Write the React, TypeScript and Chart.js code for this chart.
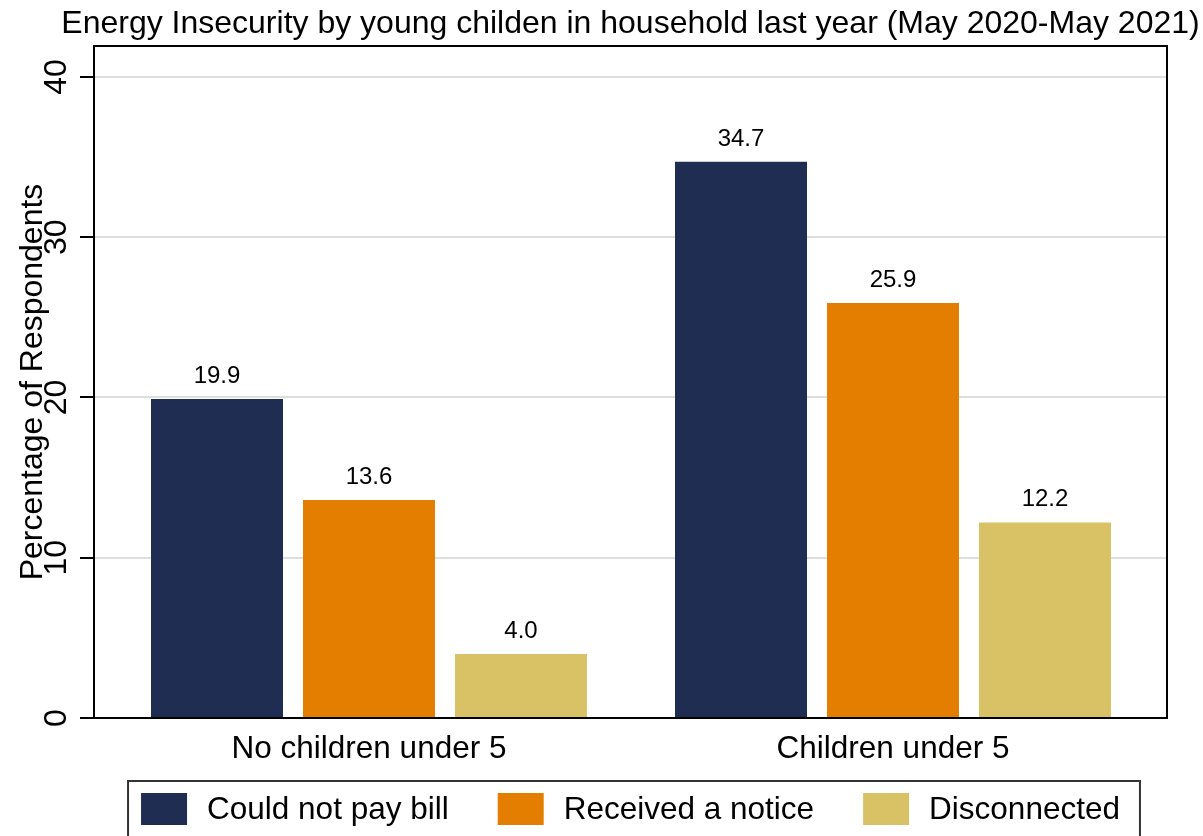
import React, { useEffect, useRef } from "react";
import { Chart, registerables } from "chart.js";

Chart.register(...registerables);

const chartTitle = "Energy Insecurity by young childen in household last year (May 2020-May 2021)";
const yAxisTitle = "Percentage of Respondents";
const categories = ["No children under 5", "Children under 5"];
const seriesNames = ["Could not pay bill", "Received a notice", "Disconnected"];
const couldNotPayBill = [19.9, 34.7];
const receivedNotice = [13.6, 25.9];
const disconnected = [4.0, 12.2];
const seriesColors = ["#1f2d52", "#e37e00", "#d9c266"];
const yTicks = [0, 10, 20, 30, 40];
const yMax = 41.93;
const xMin = -0.5248;
const xMax = 1.5229;

const FONT = "'Liberation Sans', Arial, Helvetica, sans-serif";

export default function App() {
  const ref = useRef<HTMLCanvasElement | null>(null);

  useEffect(() => {
    document.body.style.margin = "0";
    const canvas = ref.current;
    if (!canvas) return;

    const seriesValues = [couldNotPayBill, receivedNotice, disconnected];

    const titlePlugin = {
      id: "topTitle",
      afterDraw(chart: any) {
        const { ctx, chartArea } = chart;
        ctx.save();
        ctx.font = `32px ${FONT}`;
        ctx.fillStyle = "#000";
        ctx.textAlign = "center";
        ctx.textBaseline = "alphabetic";
        ctx.fillText(chartTitle, (chartArea.left + chartArea.right) / 2, 33);
        ctx.restore();
      },
    };

    const legendPlugin = {
      id: "boxLegend",
      afterDraw(chart: any) {
        const { ctx, chartArea } = chart;
        const boxW = 46;
        const boxH = 32;
        const textGap = 20;
        const itemGap = 49;
        const swatchTop = 793;
        ctx.save();
        ctx.font = `31.5px ${FONT}`;
        const widths = seriesNames.map((n) => ctx.measureText(n).width);
        const total =
          widths.reduce((a, w) => a + boxW + textGap + w, 0) + itemGap * (seriesNames.length - 1);
        let x = (chartArea.left + chartArea.right) / 2 - total / 2;
        const startX = x;
        seriesNames.forEach((name, i) => {
          ctx.fillStyle = seriesColors[i];
          ctx.fillRect(x, swatchTop, boxW, boxH);
          ctx.fillStyle = "#000";
          ctx.textAlign = "left";
          ctx.textBaseline = "alphabetic";
          ctx.fillText(name, x + boxW + textGap, swatchTop + 25.5);
          x += boxW + textGap + widths[i] + itemGap;
        });
        const endX = x - itemGap;
        ctx.strokeStyle = "#333";
        ctx.lineWidth = 2;
        const top = swatchTop - 12;
        ctx.strokeRect(startX - 13, top, endX - startX + 33, chart.height - top + 20);
        ctx.restore();
      },
    };

    const boxPlugin = {
      id: "plotBox",
      afterDatasetsDraw(chart: any) {
        const { ctx, chartArea } = chart;
        ctx.save();
        ctx.font = `24px ${FONT}`;
        ctx.fillStyle = "#000";
        ctx.textAlign = "center";
        ctx.textBaseline = "alphabetic";
        chart.data.datasets.forEach((ds: any, di: number) => {
          const meta = chart.getDatasetMeta(di);
          meta.data.forEach((el: any, i: number) => {
            const v = seriesValues[di][i];
            ctx.fillText(v.toFixed(1), el.x, el.y - 16);
          });
        });
        ctx.strokeStyle = "#000";
        ctx.lineWidth = 2;
        ctx.strokeRect(
          chartArea.left,
          chartArea.top,
          chartArea.right - chartArea.left,
          chartArea.bottom - chartArea.top
        );
        ctx.restore();
      },
    };

    const chart = new Chart(canvas, {
      type: "bar",
      data: {
        datasets: seriesNames.map((name, di) => ({
          label: name,
          data: seriesValues[di].map((v, i) => ({ x: i, y: v })),
          backgroundColor: seriesColors[di],
          borderWidth: 0,
          categoryPercentage: 0.8702,
          barPercentage: 0.8684,
        })),
      },
      options: {
        animation: false,
        responsive: false,
        devicePixelRatio: 1,
        layout: { padding: { top: 46, right: 36, left: 0, bottom: 0 } },
        plugins: {
          title: { display: false },
          tooltip: { enabled: false },
          legend: { display: false },
        },
        scales: {
          x: {
            type: "linear",
            offset: false,
            min: xMin,
            max: xMax,
            afterBuildTicks: (scale: any) => {
              scale.ticks = categories.map((_, i) => ({ value: i }));
            },
            afterFit: (scale: any) => {
              scale.height = 118;
            },
            grid: { display: false, drawTicks: false, offset: false },
            border: { display: false },
            ticks: {
              padding: 12.5,
              color: "#000",
              font: { family: FONT, size: 31.5 },
              maxRotation: 0,
              minRotation: 0,
              autoSkip: false,
              callback: (v: any) => categories[Math.round(Number(v))] ?? "",
            },
          },
          y: {
            type: "linear",
            min: 0,
            max: yMax,
            afterBuildTicks: (scale: any) => {
              scale.ticks = yTicks.map((v) => ({ value: v }));
            },
            afterFit: (scale: any) => {
              scale.width = 94;
            },
            grid: {
              color: "#dedede",
              lineWidth: 2,
              tickLength: 14,
              tickColor: "#000",
              tickWidth: 2,
            },
            border: { display: false },
            ticks: {
              minRotation: 90,
              maxRotation: 90,
              crossAlign: "center",
              padding: 5,
              color: "#000",
              font: { family: FONT, size: 32 },
            },
            title: {
              display: true,
              text: yAxisTitle,
              color: "#000",
              font: { family: FONT, size: 32 },
              padding: { top: 13.8, bottom: 0 },
            },
          },
        },
      },
      plugins: [titlePlugin, boxPlugin, legendPlugin],
    } as any);

    return () => chart.destroy();
  }, []);

  return (
    <div style={{ width: 1203, height: 836 }}>
      <canvas ref={ref} width={1203} height={836} />
    </div>
  );
}
